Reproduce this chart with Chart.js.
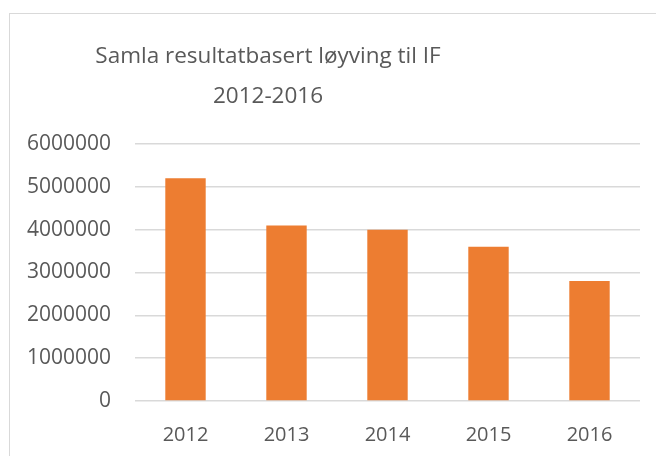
<!DOCTYPE html>
<html>
<head>
<meta charset="utf-8">
<script src="https://cdn.jsdelivr.net/npm/chart.js@4/dist/chart.umd.min.js"></script>
<style>
  html, body { margin: 0; padding: 0; background: #fff; }
  #wrap { position: relative; width: 656px; height: 456px; overflow: hidden; }
  #frame { position: absolute; left: 9px; top: 13px; width: 700px; height: 500px; border: 1.5px solid #d9d9d9; }
  #resultChart { position: absolute; left: 0; top: 0; }
</style>
</head>
<body>
<div id="wrap">
  <div id="frame"></div>
  <canvas id="resultChart" width="656" height="456"></canvas>
</div>
<script>
const years = ['2012', '2013', '2014', '2015', '2016'];
const grantValues = [5200000, 4100000, 4000000, 3600000, 2800000];
const titleLines = ['Samla resultatbasert løyving til IF', '2012-2016'];
const yTicks = [0, 1000000, 2000000, 3000000, 4000000, 5000000, 6000000];

document.addEventListener('DOMContentLoaded', function() {
    const chartElement = document.getElementById('resultChart');

    // title is drawn by hand so it can sit off-centre like the original
    const titlePlugin = {
        id: 'offsetTitle',
        afterDraw(chart) {
            const ctx = chart.ctx;
            ctx.save();
            ctx.fillStyle = '#595959';
            ctx.font = '22.5px "Open Sans"';
            ctx.textAlign = 'center';
            ctx.textBaseline = 'alphabetic';
            ctx.fillText(titleLines[0], 268, 63);
            ctx.fillText(titleLines[1], 268, 103);
            ctx.restore();
        }
    };

    new Chart(chartElement, {
        type: 'bar',
        data: {
            labels: years,
            datasets: [{
                data: grantValues,
                backgroundColor: '#ED7D31',
                borderWidth: 0,
                barPercentage: 0.4,
                categoryPercentage: 1.0
            }]
        },
        options: {
            responsive: false,
            animation: false,
            layout: { padding: { top: 144, right: 16, bottom: 0, left: 0 } },
            plugins: {
                legend: { display: false },
                title: { display: false },
                tooltip: { enabled: false }
            },
            scales: {
                x: {
                    grid: { display: false },
                    border: { display: false },
                    ticks: {
                        color: '#595959',
                        font: { family: 'Open Sans', size: 20 },
                        padding: 14
                    },
                    afterFit(scale) { scale.height = 55; }
                },
                y: {
                    min: 0,
                    max: 6000000,
                    afterBuildTicks(scale) {
                        scale.ticks = yTicks.map(v => ({ value: v }));
                    },
                    grid: { color: '#d9d9d9', lineWidth: 1.5, drawTicks: false },
                    border: { display: false },
                    ticks: {
                        color: '#595959',
                        font: { family: 'Open Sans', size: 21 },
                        padding: 24,
                        callback: v => String(v)
                    },
                    afterFit(scale) { scale.width = 135; }
                }
            }
        },
        plugins: [titlePlugin]
    });
});
</script>
</body>
</html>
